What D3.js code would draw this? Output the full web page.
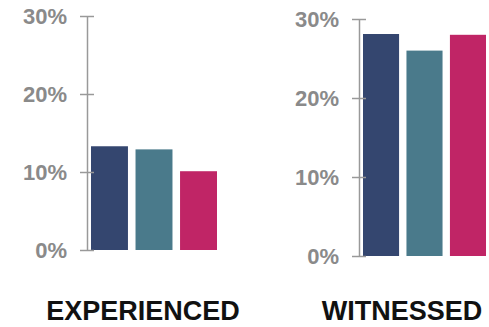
<!DOCTYPE html>
<html>
<head>
<meta charset="utf-8">
<script src="https://cdn.jsdelivr.net/npm/d3@7"></script>
<style>
  body { margin: 0; background: #fff; }
  text { font-family: "Liberation Sans", Arial, sans-serif; font-weight: bold; }
</style>
</head>
<body>
<div id="chart"></div>
<script>
var groups = ["EXPERIENCED", "WITNESSED"];
var series = ["A", "B", "C"];
var experienced = [0.133, 0.129, 0.101];
var witnessed = [0.281, 0.260, 0.280];
var ticks = [0, 0.1, 0.2, 0.3];
var colors = ["#34466f", "#4a7a8b", "#c02566"];

var width = 489, height = 327;

var svg = d3.select("#chart")
  .append("svg")
    .attr("width", width)
    .attr("height", height);

// each panel: axis position, bar range and vertical range
var panels = [
  { name: groups[0], values: experienced, axisX: 87, barRange: [91, 217], yRange: [250, 16], labelX: 143 },
  { name: groups[1], values: witnessed, axisX: 359, barRange: [363, 486], yRange: [256, 19], labelX: 402 }
];

panels.forEach(function(p) {
  var y = d3.scaleLinear().domain([0, 0.3]).range(p.yRange);
  var x = d3.scaleBand().domain(series).range(p.barRange).paddingInner(0.17).paddingOuter(0);

  var g = svg.append("g");

  // bars
  g.selectAll("rect")
    .data(p.values)
    .enter().append("rect")
      .attr("x", function(d, i) { return x(series[i]); })
      .attr("y", function(d) { return y(d); })
      .attr("width", x.bandwidth())
      .attr("height", function(d) { return y(0) - y(d); })
      .style("fill", function(d, i) { return colors[i]; });

  // axis
  var axis = g.append("g")
    .attr("transform", "translate(" + p.axisX + ",0)")
    .call(d3.axisLeft(y).tickValues(ticks).tickFormat(d3.format(".0%")).tickSizeInner(-7).tickSizeOuter(0).tickPadding(20));

  axis.select(".domain").attr("stroke", "#999").attr("stroke-width", 1.5);
  axis.selectAll(".tick line")
    .attr("x1", -7).attr("x2", 7)
    .attr("stroke", "#999").attr("stroke-width", 1.5);
  axis.selectAll(".tick text")
    .attr("x", -20)
    .attr("dy", "0.36em")
    .style("font-size", "22px")
    .style("font-weight", "bold")
    .style("font-family", "'Liberation Sans', Arial, sans-serif")
    .style("fill", "#8a8a8a");

  // group label
  svg.append("text")
    .attr("x", p.labelX)
    .attr("y", 320)
    .attr("text-anchor", "middle")
    .style("font-size", "27px")
    .style("fill", "#111")
    .text(p.name);
});
</script>
</body>
</html>
